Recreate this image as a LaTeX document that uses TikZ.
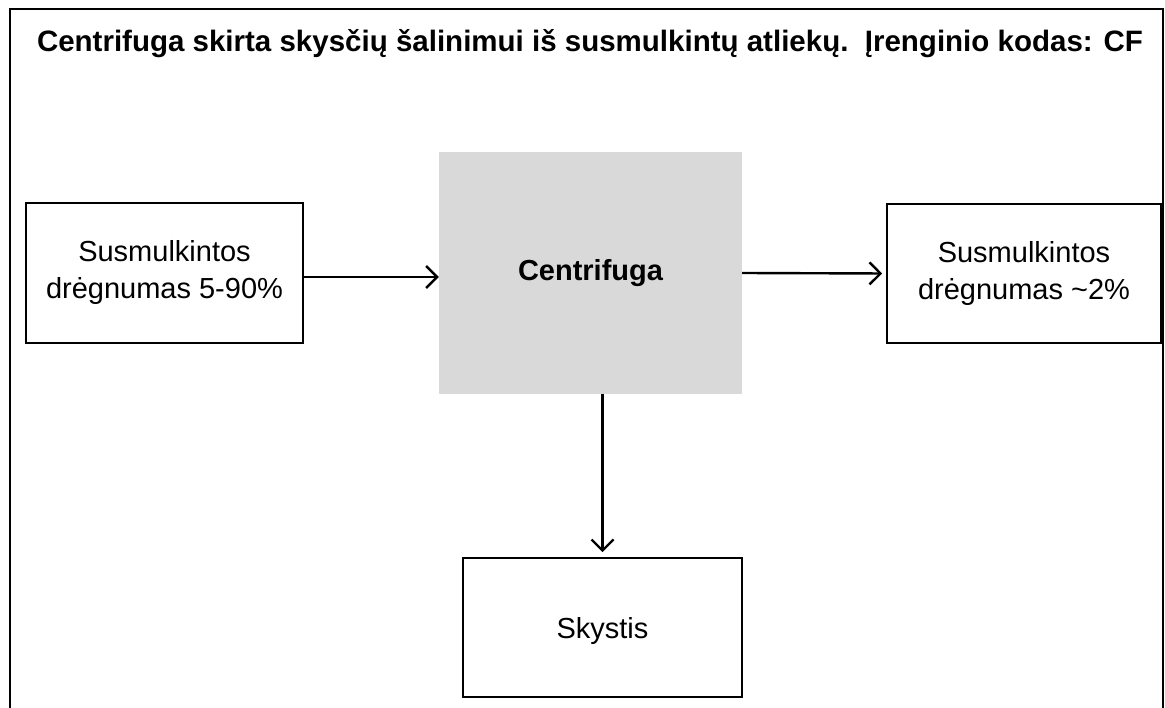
\documentclass[tikz,border=0pt]{standalone}
\usepackage{fontspec}
\setmainfont{Liberation Sans}
\usetikzlibrary{arrows.meta}
\definecolor{procgray}{HTML}{D9D9D9}
\begin{document}
\begin{tikzpicture}[x=1pt,y=-1pt,
  box/.style={draw=black,line width=1.6pt,inner sep=0pt,align=center,
    font=\fontsize{29}{37}\selectfont},
  proc/.style={fill=procgray,inner sep=0pt,align=center,
    font=\fontsize{29}{37}\selectfont\bfseries},
  flow/.style={line width=2.4pt,-{Straight Barb[length=11pt,width=22pt,line width=2.4pt]}}]
\useasboundingbox (0,0) rectangle (1165,708);
% outer frame, running off the page at the bottom
\draw[line width=1.6pt] (10,730) -- (10,9) -- (1163,9) -- (1163,730);
% title
\node[anchor=base,font=\fontsize{29.5}{34}\selectfont\bfseries] (title) at (590,52)
  {Centrifuga skirta skysčių šalinimui iš susmulkintų atliekų.\ \ Įrenginio kodas: CF};
% process blocks
\node[box,minimum width=277pt,minimum height=140pt] (in) at (164.5,273) {Susmulkintos\\drėgnumas 5-90\%};
\node[proc,minimum width=303pt,minimum height=242pt] (cf) at (590.5,273) {Centrifuga};
\node[box,minimum width=274pt,minimum height=139pt] (out) at (1024,273.5) {Susmulkintos\\drėgnumas \textasciitilde2\%};
\node[box,minimum width=279pt,minimum height=139pt,text depth=0pt] (liq) at (602.5,627.5) {Skystis};
% flows
\draw[flow] ([yshift=-4pt]in.east) -- ([yshift=-4pt]cf.west);
\draw[flow,shorten >=4pt] (cf.east) -- (out.west);
\draw[flow,shorten >=5pt] (cf.south -| liq.north) -- (liq.north);
\end{tikzpicture}
\end{document}
